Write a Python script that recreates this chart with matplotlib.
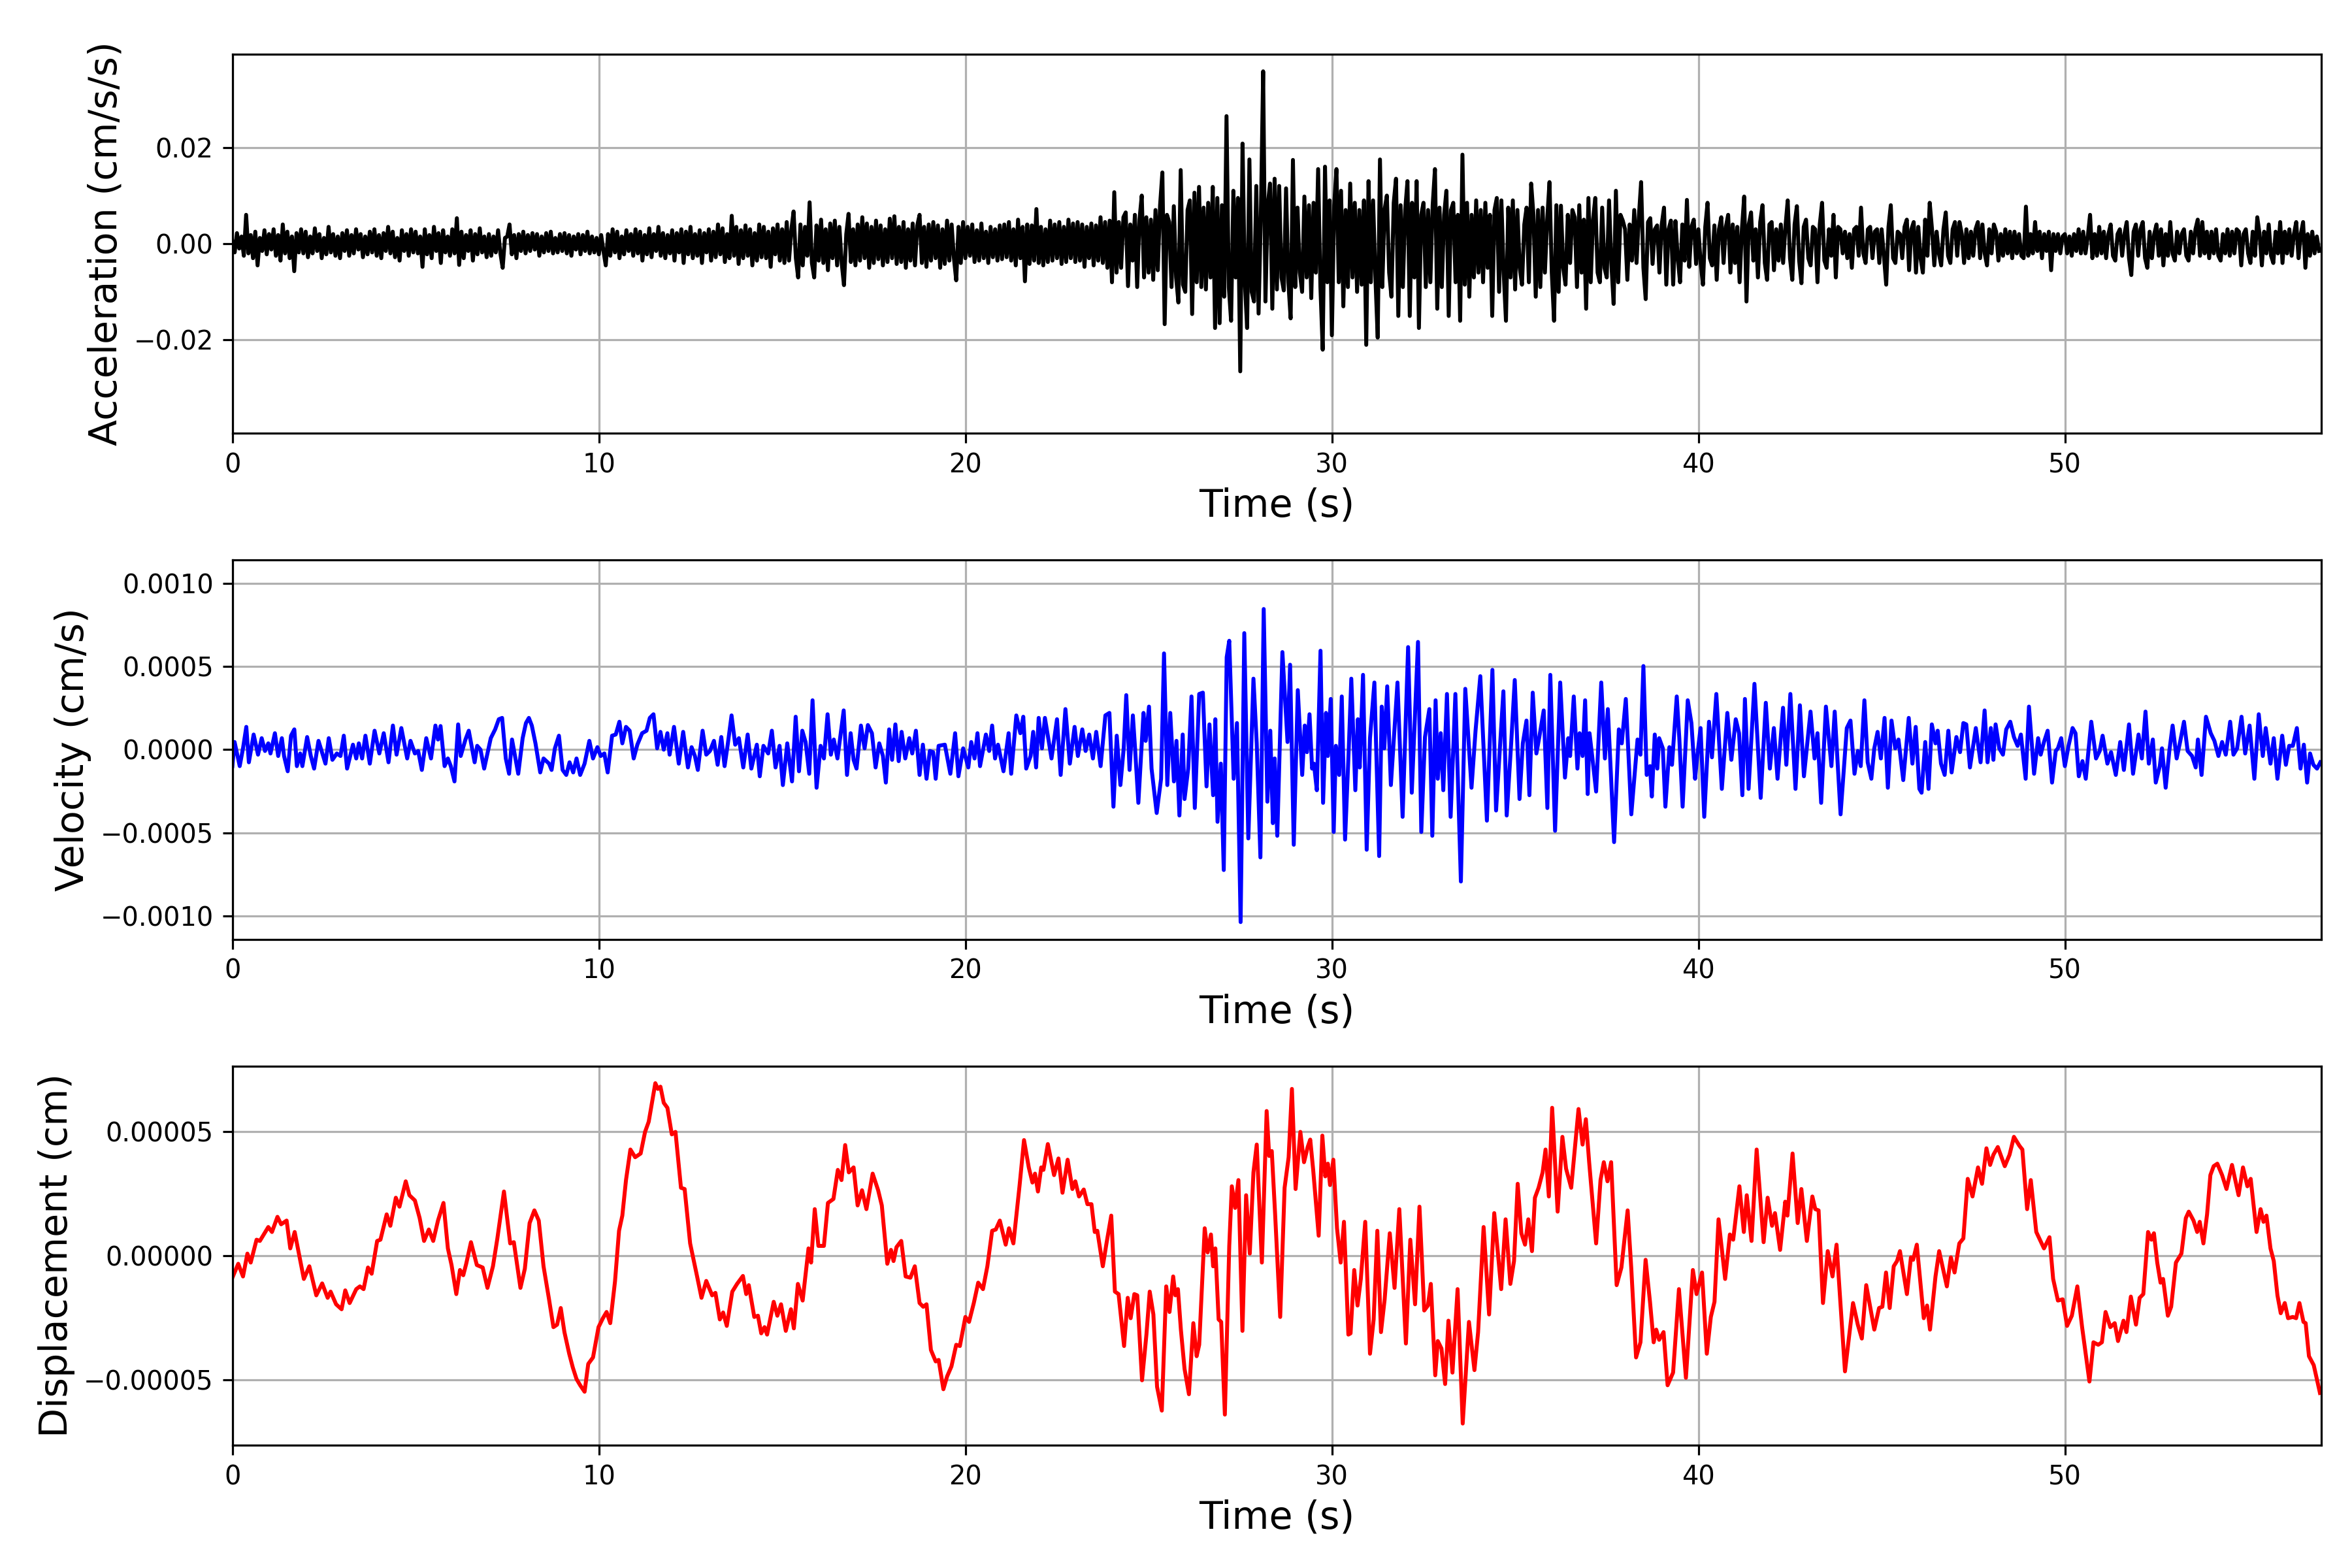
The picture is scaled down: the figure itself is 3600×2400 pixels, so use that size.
import numpy as np
import matplotlib
matplotlib.use("Agg")
import matplotlib.pyplot as plt
from matplotlib.ticker import MultipleLocator

# acceleration, 16 samples per second, units of 1e-4 cm/s/s (one row = one second)
acc_00_10 = [
    5, -18, 22, -10, 15, -25, 60, -20, 18, -30, 25, -45, 12, -15, 28, -22,
    20, -12, 30, -25, 18, -35, 40, -20, 25, -30, 15, -57, 22, -18, 30, -20,
    25, -28, 15, -20, 32, -15, 20, -30, 12, -22, 35, -18, 20, -25, 15, -30,
    22, -15, 28, -25, 18, -20, 30, -12, 20, -28, 15, -22, 25, -18, 30, -25,
    18, -30, 22, -15, 35, -20, 25, -28, 12, -35, 28, -15, 20, -25, 30, -18,
    25, -20, 15, -48, 30, -22, 18, -30, 35, -15, 22, -40, 28, -18, 15, -25,
    30, -20, 53, -44, 25, -30, 18, -15, 28, -35, 20, -22, 32, -18, 15, -28,
    20, -25, 15, -18, 28, -20, -50, 12, 15, 40, -22, 18, -30, 20, -15, 25,
    -20, 18, -15, 22, -12, 20, -25, 15, -18, 22, -15, 25, -20, 12, -18, 20,
    -15, 22, -20, 18, -25, 15, -12, 20, -22, 18, -15, 25, -20, 15, -18, 12,
]
acc_10_20 = [
    -22, 18, -15, -45, 20, -25, 30, -18, 25, -30, 15, -22, 28, -15, 20, -25,
    30, -20, 25, -35, 18, -22, 32, -28, 20, -15, 35, -25, 22, -30, 18, -20,
    28, -35, 22, -18, 30, -40, 25, -22, 35, -30, 20, -25, 28, -40, 22, -18,
    30, -35, 25, -28, 40, -22, 32, -38, 20, -30, 58, -25, 35, -42, 28, -30,
    38, -25, 30, -45, 22, -35, 40, -28, 35, -30, 25, -48, 32, -22, 40, -35,
    30, -40, 45, -35, 28, 67, -30, -70, 40, -45, 35, -25, 86, -40, -70, 38,
    -35, 50, -40, 30, -55, 42, -30, 48, -45, 35, -40, -86, 20, 62, -38, 30,
    -45, 40, -35, 55, -30, 42, -50, 35, -40, 48, -32, 38, -45, 30, -38, 52,
    -30, 57, -42, 35, -38, 45, -50, 30, -35, 42, -45, 38, 60, -40, 35, -48,
    40, -35, 45, -30, 38, -50, 30, -42, 48, -35, 40, -30, -76, 35, -40, 45,
]
acc_20_30 = [
    -30, 35, -25, 40, -38, 28, -35, 42, -30, 25, -40, 35, -28, 30, -35, 38,
    -32, 40, -28, 45, -35, 30, -45, 50, -30, 35, -78, 40, -42, 38, -35, 72,
    -40, 35, -45, 30, -38, 48, -35, 40, -30, 45, -42, 35, -38, 50, -30, 42,
    -38, 45, -35, 40, -48, 35, -30, 42, -45, 38, -35, 55, -40, 45, -50, 48,
    -80, 107, -60, 45, -50, 55, 65, -88, 40, -35, 60, -90, 50, 100, -70, 55,
    -60, 50, -75, 70, -55, 80, 148, -167, 60, 45, -90, 78, -70, -122, 153, -85,
    -100, 70, 90, -146, 106, -80, 118, -90, 75, -95, 85, -70, 118, -175, 95, -165,
    80, -110, 265, -90, -160, 110, -70, 95, -265, 208, -80, -175, 175, -100, -120, 120,
    -145, 60, 358, -120, 80, 125, -135, 135, -95, 120, -70, -97, 115, -80, -155, 174,
    -90, 75, -60, -100, 98, -70, 80, -113, 85, -60, 155, -90, -220, 160, -80, 90,
]
acc_30_40 = [
    -190, 80, 155, -80, 110, -130, 70, -90, 125, -70, 85, -100, 70, -85, 90, -210,
    130, -80, 90, -70, -195, 175, -90, 70, 100, -60, -110, 85, 135, -150, 80, -90,
    70, 130, -150, 85, -70, 130, -175, 60, 85, -90, 70, -80, 80, 155, -135, 75,
    -90, 60, 110, -150, 70, 85, -80, 60, -160, 185, -85, 85, -110, 60, -70, 90,
    -60, 70, -80, 85, -50, 60, -150, 70, 95, -100, 90, -60, -160, 75, -70, 90,
    -95, 70, -50, -85, 40, 75, -80, 125, 60, -110, 70, -90, 75, -60, 50, 128,
    -60, -160, 80, -100, 79, -50, -85, 60, -40, 70, 55, -90, 80, -60, 50, -135,
    95, -80, 50, 95, -60, -80, 75, -50, -70, 90, -40, -125, 110, -80, 60, 48,
    30, -75, 40, -35, 70, -40, 55, 128, -50, -115, 45, 53, -42, 30, 38, -60,
    40, 75, -85, 30, 48, -85, 47, -30, -80, 40, -35, 91, -48, 35, 50, -42,
]
acc_40_50 = [
    30, -40, -85, 35, 85, -30, -45, 38, -75, 30, 55, -40, 35, 60, -60, 40,
    -40, 35, -80, 30, 98, -120, 40, 65, -35, 30, -70, 45, 80, -40, -75, 40,
    45, -55, 30, -35, 40, -40, 35, 90, -30, -75, 40, 78, -35, -82, 35, 50,
    -30, -45, 35, 30, -80, 40, 85, -35, -50, 30, -25, 60, -70, 35, 30, -20,
    25, -30, 20, -50, 30, 35, -25, 75, -20, -40, 30, 35, -30, 25, 30, -40,
    30, -25, -85, 35, 80, -30, -40, 25, 20, -30, 35, 50, -55, 30, 45, -60,
    35, -30, -60, 50, -25, 85, 30, -45, 25, -20, -45, 30, 65, -25, -40, 30,
    45, -25, 45, 20, -40, 30, -30, 25, -25, 30, 45, -30, 40, -20, -45, 30,
    -20, 40, 25, -35, 20, -25, 30, -20, 25, -30, 25, -20, 20, -25, -30, 77,
    -25, 20, -20, 45, -15, 25, -30, 20, -15, 25, -55, 20, -15, 20, -20, 15,
]
acc_50_57 = [
    20, -20, 15, -25, 20, -15, 30, -20, 25, -20, 15, 60, -30, 20, -25, 35,
    -20, 25, -30, 20, 40, -25, -35, 20, 30, -25, 20, 45, -30, -65, 25, 40,
    -25, 30, 45, -30, -50, 25, -30, 20, 40, -25, 30, -45, 20, -25, 45, -20,
    -35, 25, -20, 20, 30, -25, -35, 25, -20, 30, 50, -25, 45, -20, 25, -30,
    25, -20, 30, -25, -35, 20, -20, 30, -25, 25, -20, 30, 25, -45, 20, 30,
    -20, -40, 25, -25, 55, 20, -45, 25, -20, 40, -25, -40, 25, -20, 45, -40,
    25, -20, 30, -25, 20, 45, -30, 20, 45, -50, 20, -25, 25, -20, 15, -15,
]

# velocity turning points (time s, value in 1e-4 cm/s)
vel_a = [
    (0.00, -0.99), (0.06, 0.46), (0.20, -0.99), (0.29, 0.08), (0.38, 1.37), (0.45, -0.76),
    (0.58, 0.91), (0.70, -0.30), (0.80, 0.69), (0.89, -0.08), (0.98, 0.38), (1.04, -0.23),
    (1.16, 0.99), (1.25, -0.38), (1.35, 0.69), (1.41, -0.38), (1.51, -1.30), (1.60, 0.84),
    (1.69, 1.22), (1.76, -0.99), (1.85, -0.23), (1.91, -0.99), (2.04, 0.76), (2.14, -0.38),
    (2.23, -1.14), (2.35, 0.53), (2.54, -0.84), (2.63, 0.69), (2.73, -0.61), (2.85, -0.23),
    (2.95, -0.38), (3.04, 0.84), (3.13, -1.14), (3.29, 0.30), (3.38, -0.53), (3.45, 0.38),
    (3.54, -0.53), (3.63, 0.84), (3.75, -0.84), (3.88, 1.14), (4.01, -0.23), (4.13, 0.99),
    (4.26, -0.76), (4.38, 1.45), (4.48, -0.30), (4.61, 1.30), (4.77, -0.53), (4.86, 0.53),
    (4.98, -0.23), (5.07, -0.08), (5.17, -1.22), (5.29, 0.69), (5.42, -0.53), (5.54, 1.45),
    (5.61, 0.61), (5.68, 1.42), (5.79, -0.99), (5.88, -0.53), (5.96, -0.99), (6.06, -1.91),
    (6.16, 1.52), (6.23, -0.38), (6.36, 0.61), (6.45, 1.14), (6.61, -0.76), (6.68, 0.23),
    (6.77, 0.00), (6.87, -1.14), (7.05, 0.69), (7.17, 1.22), (7.27, 1.83), (7.36, 1.91),
    (7.46, -0.53), (7.55, -1.45), (7.63, 0.61), (7.80, -1.45), (7.92, 0.69), (8.01, 1.60),
    (8.09, 1.91), (8.17, 1.45), (8.27, 0.38), (8.40, -1.37), (8.49, -0.53), (8.64, -0.84),
    (8.71, -1.22), (8.80, 0.08), (8.91, 0.84), (9.01, -1.22), (9.11, -1.52), (9.20, -0.76),
    (9.30, -1.37), (9.39, -0.53), (9.49, -1.52), (9.61, -0.84), (9.74, 0.53), (9.84, -0.53),
    (9.96, 0.15), (10.05, -0.38), (10.15, -0.23), (10.24, -1.37), (10.36, 0.84), (10.46, 0.91),
    (10.56, 1.68), (10.64, 0.38), (10.74, 1.37), (10.84, 1.14), (10.95, -0.53), (11.05, 0.30),
    (11.18, 0.99), (11.30, 1.14), (11.39, 1.91), (11.49, 2.13), (11.59, 0.08), (11.68, 1.07),
    (11.77, 0.00), (11.87, 0.99), (11.93, -0.30), (12.05, 1.37), (12.18, -0.84), (12.30, 1.07),
    (12.43, -1.07), (12.53, 0.15), (12.62, -0.38), (12.70, -1.22), (12.83, 1.14), (12.93, -0.30),
    (13.03, -0.08), (13.14, 0.53), (13.24, -0.91), (13.34, 0.76), (13.43, -0.99), (13.52, 0.38),
    (13.62, 2.06), (13.72, 0.30), (13.82, 0.69), (13.94, -1.07), (14.06, 0.91), (14.16, -1.14),
    (14.31, 0.30), (14.39, -1.60), (14.49, 0.23), (14.62, -0.23), (14.72, 1.14), (14.82, -1.07),
    (14.93, 0.23), (15.02, -2.13), (15.14, 0.38), (15.27, -1.91), (15.37, 1.98), (15.46, -1.30),
    (15.55, 1.14), (15.64, 0.46), (15.74, -1.45), (15.83, 2.97), (15.94, -2.29), (16.05, 0.23),
    (16.14, -0.53), (16.24, 2.13), (16.33, -0.30), (16.41, 0.61), (16.51, -0.53), (16.68, 2.36),
    (16.77, -1.52), (16.87, 0.99), (16.95, -0.61), (17.03, -1.14), (17.15, 1.45), (17.25, 0.08),
    (17.34, 1.48), (17.45, 0.99), (17.55, -1.07), (17.65, 0.38), (17.75, -0.38), (17.83, -1.98),
    (17.92, 1.22), (18.00, -0.61), (18.09, 1.52), (18.18, -0.69), (18.26, 1.07), (18.36, -0.53),
    (18.47, 0.69), (18.55, -0.23), (18.65, 1.14), (18.75, -1.52), (18.84, 0.30), (18.94, -1.75),
    (19.03, -0.08), (19.12, -0.15), (19.19, -1.75), (19.27, 0.23),
]
vel_b = [
    (19.44, 0.30), (19.59, -1.45), (19.72, 0.99), (19.81, -1.60), (19.94, 0.08), (20.08, -1.07),
    (20.16, 0.46), (20.25, -0.53), (20.33, 0.99), (20.40, -0.99), (20.56, 0.91), (20.65, -0.08),
    (20.73, 1.45), (20.81, -0.53), (20.89, 0.30), (21.04, -1.30), (21.18, 0.99), (21.25, -1.45),
    (21.39, 2.06), (21.50, 0.99), (21.58, 1.98), (21.66, -1.14), (21.78, -0.38), (21.85, 1.07),
    (21.93, -1.07), (22.00, 1.91), (22.09, 0.08), (22.17, 1.91), (22.25, 0.84), (22.35, -0.53),
    (22.50, 1.83), (22.60, -1.52), (22.73, 2.44), (22.85, -0.84), (22.98, 1.37), (23.07, -0.38),
    (23.19, 1.22), (23.28, -0.08), (23.38, 0.91), (23.48, -0.53), (23.57, 1.07), (23.69, -0.99),
    (23.82, 2.06), (23.93, 2.21), (24.04, -3.43), (24.13, 0.84), (24.23, -2.13), (24.32, 0.08),
    (24.39, 3.28), (24.48, -1.22), (24.57, 2.06), (24.63, 0.08), (24.72, -3.20), (24.86, 2.21),
    (24.92, 0.53), (25.01, 2.59), (25.08, -1.14), (25.22, -3.81), (25.34, -1.75), (25.42, 5.79),
    (25.51, -2.13), (25.59, 2.21), (25.69, -1.91), (25.76, 0.53), (25.84, -3.96), (25.93, 0.91),
    (25.98, -2.97), (26.08, -1.14), (26.17, 3.20), (26.26, -3.51), (26.38, 3.35), (26.48, 3.43),
    (26.58, -2.21), (26.66, 1.52), (26.76, -2.74), (26.82, 1.83), (26.88, -4.34), (26.97, -0.84),
    (27.05, -7.24), (27.13, 5.56), (27.20, 6.55), (27.32, -1.75), (27.41, 1.60), (27.51, -10.37),
    (27.61, 7.01), (27.72, -5.34), (27.86, 4.27), (27.95, 0.38), (28.05, -6.48), (28.14, 8.46),
    (28.24, -3.13), (28.32, 1.14), (28.39, -4.42), (28.44, -0.53), (28.51, -5.18), (28.65, 5.87),
    (28.79, 0.46), (28.86, 5.11), (28.96, -5.72), (29.07, 3.58), (29.19, -1.52), (29.26, 1.45),
    (29.32, -0.15), (29.39, 2.13), (29.46, -1.14), (29.51, -0.84), (29.59, -2.44), (29.69, 5.95),
    (29.76, -3.20), (29.84, 2.21), (29.89, -0.38), (29.97, 3.05), (30.05, -4.95), (30.11, 0.23),
    (30.20, -1.52), (30.27, 3.20), (30.36, -5.41), (30.46, 0.00), (30.53, 4.27), (30.64, -2.44),
    (30.71, 1.83), (30.76, -1.07), (30.85, 4.50), (30.95, -6.02), (31.04, 0.69), (31.16, 4.04),
    (31.29, -6.40), (31.36, 2.59), (31.43, 0.08), (31.51, 3.81), (31.61, -2.13), (31.79, 4.04),
    (31.93, -4.04), (32.08, 6.17), (32.18, -2.59), (32.35, 6.48), (32.44, -4.95), (32.54, 0.76),
    (32.66, 2.44), (32.74, -5.18), (32.83, 2.97), (32.89, -1.75), (32.97, 0.99), (33.04, -2.44),
    (33.14, 3.35), (33.24, -4.04), (33.37, 3.35), (33.52, -7.93), (33.64, 3.66), (33.81, -2.29),
    (33.92, 1.14), (34.05, 4.42), (34.23, -4.27), (34.38, 4.80), (34.48, -3.66), (34.58, -0.08),
    (34.68, 3.51), (34.77, -3.96), (34.89, 0.30), (34.99, 4.19), (35.12, -2.97), (35.21, 0.38),
    (35.31, 1.75), (35.39, -2.74), (35.48, 3.43), (35.58, -0.23), (35.66, 0.76), (35.78, 2.36),
    (35.88, -3.51), (35.96, 4.50), (36.09, -4.88), (36.23, 4.04), (36.36, -1.68), (36.45, 0.69),
    (36.50, -0.38), (36.60, 3.20), (36.70, -1.14), (36.76, 0.99), (36.84, -0.38), (36.91, 2.97),
    (36.98, -2.67), (37.03, 0.99), (37.11, -0.53), (37.21, -2.52), (37.35, 4.04), (37.45, -0.53),
    (37.53, 2.44), (37.70, -5.56), (37.83, 1.22), (37.91, 0.38), (38.02, 3.05), (38.17, -3.89),
]
vel_c = [
    (38.34, 0.61), (38.42, -0.30), (38.50, 5.03), (38.59, -1.52), (38.68, -0.99), (38.73, -2.82),
    (38.81, 0.91), (38.88, -1.14), (38.93, 0.69), (39.03, 0.08), (39.10, -3.43), (39.21, 0.15),
    (39.28, -0.91), (39.41, 3.20), (39.48, 0.69), (39.57, -3.43), (39.71, 2.97), (39.81, 1.60),
    (39.91, -1.75), (39.97, -0.38), (40.06, 1.30), (40.16, -4.04), (40.29, 1.68), (40.37, -0.46),
    (40.49, 3.35), (40.64, -2.36), (40.79, 2.21), (40.90, -0.61), (41.02, 1.83), (41.11, 0.99),
    (41.20, -2.74), (41.27, 3.05), (41.37, -2.36), (41.53, 3.96), (41.70, -2.90), (41.84, 2.82),
    (41.95, -1.14), (42.06, 1.30), (42.16, -1.75), (42.31, 2.52), (42.40, -0.91), (42.51, 3.35),
    (42.65, -2.36), (42.77, 2.67), (42.88, -1.60), (43.06, 2.29), (43.17, -0.53), (43.25, 0.99),
    (43.35, -3.20), (43.48, 2.59), (43.63, -0.99), (43.72, 2.29), (43.88, -3.89), (44.05, 1.30),
    (44.15, 1.75), (44.26, -1.45), (44.35, -0.08), (44.43, -0.99), (44.53, 2.97), (44.62, -0.76),
    (44.72, -1.75), (44.80, 0.08), (44.89, 1.07), (44.98, -0.53), (45.08, 1.91), (45.17, -2.29),
    (45.27, 1.75), (45.37, 0.08), (45.46, 0.61), (45.59, -1.83), (45.74, 1.91), (45.84, -0.84),
    (45.93, 1.37), (46.03, -2.36), (46.09, -2.59), (46.19, 0.46), (46.28, -2.36), (46.37, 1.52),
    (46.47, 0.38), (46.53, 1.14), (46.62, -0.84), (46.72, -1.52), (46.82, 1.14), (46.91, -1.37),
    (47.04, 0.76), (47.14, -0.15), (47.23, 1.60), (47.31, 1.52), (47.41, -1.07), (47.57, 1.30),
    (47.70, -0.76), (47.81, 2.36), (47.89, -0.76), (47.98, 1.30), (48.05, -0.61), (48.11, 1.52),
    (48.21, 0.08), (48.31, -0.30), (48.40, 1.22), (48.51, 1.68), (48.61, 0.76), (48.71, 0.23),
    (48.80, 0.91), (48.93, -1.75), (49.02, 2.59), (49.16, -1.45), (49.27, 0.69), (49.34, -0.30),
    (49.43, 0.46), (49.53, 1.14), (49.65, -1.98), (49.75, -0.08), (49.81, 0.08), (49.90, 0.69),
    (50.00, -0.99), (50.10, 0.23), (50.21, 1.30), (50.29, 0.99), (50.38, -1.60), (50.48, -0.69),
    (50.57, -1.75), (50.72, 1.68), (50.85, -0.53), (50.95, -0.08), (51.03, 0.84), (51.16, -0.84),
    (51.26, -0.15), (51.39, -1.52), (51.51, 0.46), (51.61, -1.22), (51.75, 1.52), (51.86, -1.45),
    (52.01, 0.91), (52.10, -0.53), (52.20, 2.29), (52.29, -0.84), (52.40, 0.61), (52.48, -1.98),
    (52.59, -0.99), (52.65, 0.08), (52.75, -2.29), (52.85, -0.08), (52.94, 1.45), (53.05, -0.53),
    (53.15, 0.53), (53.25, 1.68), (53.35, -0.08), (53.47, -0.38), (53.57, -1.07), (53.63, 0.61),
    (53.73, -1.52), (53.85, 1.98), (53.98, 0.99), (54.08, 0.53), (54.19, -0.38), (54.29, 0.46),
    (54.39, -0.30), (54.51, 1.68), (54.60, -0.30), (54.70, 0.08), (54.82, 1.98), (54.92, -0.23),
    (55.04, 1.45), (55.17, -1.75), (55.29, 2.13), (55.40, -0.38), (55.48, 1.30), (55.61, -0.84),
    (55.70, 0.69), (55.80, -1.75), (55.93, 0.84), (56.03, -0.91), (56.12, 0.23), (56.22, 0.23),
    (56.33, 1.30), (56.43, -1.14), (56.52, 0.30), (56.61, -1.98), (56.69, -0.23), (56.78, -0.91),
    (56.88, -1.14), (56.97, -0.76),
]

# displacement turning points (time s, value in 1e-5 cm)
disp_a = [
    (0.00, -0.89), (0.16, -0.33), (0.29, -0.84), (0.41, 0.08), (0.50, -0.28), (0.66, 0.64),
    (0.75, 0.59), (0.98, 1.15), (1.08, 0.95), (1.23, 1.56), (1.33, 1.26), (1.48, 1.41),
    (1.58, 0.29), (1.70, 0.95), (1.95, -0.94), (2.10, -0.43), (2.29, -1.60), (2.45, -1.12),
    (2.60, -1.70), (2.68, -1.45), (2.83, -1.96), (2.98, -2.16), (3.08, -1.40), (3.20, -1.91),
    (3.38, -1.35), (3.48, -1.24), (3.58, -1.35), (3.70, -0.48), (3.80, -0.73), (3.95, 0.59),
    (4.04, 0.64), (4.21, 1.66), (4.31, 1.20), (4.46, 2.33), (4.56, 1.97), (4.73, 2.99),
    (4.83, 2.43), (4.98, 2.22), (5.11, 1.51), (5.23, 0.59), (5.36, 1.05), (5.48, 0.59),
    (5.61, 1.41), (5.76, 2.12), (5.88, 0.29), (5.98, -0.38), (6.11, -1.55), (6.21, -0.58),
    (6.30, -0.79), (6.38, -0.33), (6.51, 0.54), (6.67, -0.38), (6.83, -0.48), (6.96, -1.30),
    (7.11, -0.43), (7.23, 0.69), (7.41, 2.58), (7.58, 0.49), (7.68, 0.54), (7.86, -1.30),
    (7.98, -0.53), (8.11, 1.31), (8.24, 1.82), (8.36, 1.41), (8.49, -0.43), (8.64, -1.76),
    (8.76, -2.88), (8.86, -2.78), (8.96, -2.11), (9.06, -3.08), (9.19, -3.95), (9.29, -4.51),
    (9.39, -4.97), (9.49, -5.22), (9.61, -5.48), (9.71, -4.36), (9.84, -4.10), (9.99, -2.88),
    (10.11, -2.52), (10.21, -2.27), (10.31, -2.72), (10.44, -1.04), (10.55, 1.00), (10.64, 1.61),
    (10.74, 3.04), (10.86, 4.27), (10.99, 3.96), (11.14, 4.11), (11.26, 4.98), (11.36, 5.39),
    (11.54, 6.94), (11.61, 6.71), (11.68, 6.80), (11.77, 6.15), (11.87, 5.95), (11.99, 4.88),
    (12.09, 4.98), (12.24, 2.73), (12.34, 2.68), (12.49, 0.49), (12.68, -0.84), (12.80, -1.70),
    (12.93, -1.02), (13.09, -1.60), (13.18, -1.50), (13.30, -2.57), (13.39, -2.29), (13.49, -2.83),
    (13.64, -1.45), (13.77, -1.14), (13.93, -0.82), (14.02, -1.55), (14.09, -1.19), (14.24, -2.47),
    (14.34, -2.42), (14.43, -3.13), (14.52, -2.88), (14.59, -3.18), (14.77, -1.86), (14.87, -2.42),
    (14.97, -1.96), (15.10, -3.03), (15.24, -2.16), (15.32, -2.93), (15.43, -1.14), (15.56, -1.81),
    (15.72, 0.29), (15.79, -0.28), (15.89, 1.87), (15.99, 0.39), (16.14, 0.39), (16.25, 2.12),
    (16.40, 2.28), (16.52, 3.45), (16.62, 3.04), (16.72, 4.45), (16.82, 3.35), (16.95, 3.55),
    (17.06, 2.02), (17.18, 2.63), (17.30, 1.87), (17.47, 3.30), (17.62, 2.63), (17.72, 2.02),
    (17.87, -0.33), (17.97, 0.23), (18.04, -0.22), (18.12, 0.34), (18.25, 0.59), (18.37, -0.84),
    (18.50, -0.89), (18.62, -0.43), (18.75, -1.91), (18.85, -2.06), (18.94, -1.96), (19.06, -3.80),
    (19.19, -4.26),
]
disp_b = [
    (19.27, -4.20), (19.40, -5.38), (19.50, -4.87), (19.62, -4.46), (19.75, -3.59), (19.85, -3.64),
    (20.00, -2.47), (20.10, -2.67), (20.23, -1.91), (20.35, -1.09), (20.48, -1.35), (20.60, -0.43),
    (20.73, 1.00), (20.83, 1.05), (20.94, 1.41), (21.10, 0.44), (21.19, 1.10), (21.31, 0.49),
    (21.48, 2.84), (21.60, 4.65), (21.73, 3.55), (21.83, 2.94), (21.90, 3.30), (21.98, 2.58),
    (22.07, 3.55), (22.13, 3.45), (22.25, 4.49), (22.42, 3.24), (22.54, 3.91), (22.65, 2.53),
    (22.79, 3.86), (22.92, 2.68), (23.00, 2.99), (23.10, 2.38), (23.23, 2.66), (23.33, 2.07),
    (23.44, 2.07), (23.53, 0.95), (23.60, 1.00), (23.75, -0.43), (23.85, 0.49), (23.98, 1.61),
    (24.08, -1.45), (24.18, -1.55), (24.33, -3.64), (24.43, -1.70), (24.51, -2.52), (24.61, -1.55),
    (24.69, -1.60), (24.82, -5.02), (24.94, -3.18), (25.03, -1.45), (25.13, -2.37), (25.23, -5.28),
    (25.36, -6.24), (25.48, -1.24), (25.57, -2.27), (25.67, -0.84), (25.73, -1.60), (25.80, -1.35),
    (25.88, -2.98), (25.98, -4.56), (26.10, -5.58), (26.22, -2.72), (26.31, -4.05), (26.38, -3.59),
    (26.53, 1.10), (26.61, 0.13), (26.70, 0.85), (26.76, -0.43), (26.82, 0.29), (26.91, -2.57),
    (26.98, -2.67), (27.08, -6.40), (27.20, 0.39), (27.27, 2.79), (27.36, 1.92), (27.45, 3.04),
    (27.56, -3.03), (27.66, 2.43), (27.76, 0.08), (27.86, 3.35), (27.95, 4.47), (28.09, -0.28),
    (28.22, 5.82), (28.29, 4.01), (28.36, 4.21), (28.45, 1.71), (28.59, -2.47), (28.71, 2.73),
    (28.82, 3.96), (28.91, 6.71), (29.01, 2.68), (29.14, 4.98), (29.24, 3.76), (29.34, 4.37),
    (29.41, 4.67), (29.49, 3.45), (29.64, 0.80), (29.74, 4.83), (29.82, 3.19), (29.89, 3.70),
    (29.95, 2.84), (30.04, 3.86), (30.14, 1.10), (30.24, -0.28), (30.33, 1.36), (30.45, -3.18),
    (30.51, -3.13), (30.61, -0.58), (30.70, -2.01), (30.79, -0.94), (30.91, 1.36), (31.04, -3.95),
    (31.14, -2.57), (31.24, 1.00), (31.34, -3.08), (31.44, -1.76), (31.58, 0.90), (31.71, -1.30),
    (31.84, 1.87), (32.02, -3.54), (32.14, 0.64), (32.27, -1.96), (32.39, 1.97), (32.52, -2.21),
    (32.62, -2.01), (32.70, -1.14), (32.82, -4.82), (32.89, -3.44), (32.99, -3.74), (33.09, -5.17),
    (33.18, -2.62), (33.29, -4.71), (33.43, -1.35), (33.57, -6.76), (33.74, -2.67), (33.89, -4.61),
    (33.99, -3.08), (34.14, 1.15), (34.29, -2.37), (34.43, 1.71), (34.62, -1.35), (34.74, 1.46),
    (34.87, -1.14), (34.97, -0.22), (35.07, 2.89), (35.17, 0.90), (35.27, 0.44), (35.36, 1.46),
    (35.46, 0.18), (35.54, 2.33), (35.64, 2.73), (35.75, 3.35), (35.83, 4.27), (35.92, 2.38),
    (36.01, 5.95), (36.16, 1.77), (36.29, 4.78), (36.39, 3.50), (36.53, 2.73), (36.73, 5.90),
    (36.84, 4.47), (36.93, 5.49), (37.02, 3.76), (37.21, 0.49), (37.33, 3.04), (37.42, 3.76),
    (37.52, 2.99), (37.62, 3.76), (37.77, -1.19), (37.90, -0.48),
]
disp_c = [
    (38.07, 1.82), (38.17, -0.53), (38.30, -4.10), (38.42, -3.49), (38.56, -0.17), (38.68, -1.86),
    (38.78, -3.49), (38.85, -2.98), (38.93, -3.39), (39.05, -3.08), (39.16, -5.22), (39.31, -4.71),
    (39.47, -1.35), (39.66, -4.92), (39.85, -0.58), (39.95, -1.55), (40.10, -0.68), (40.23, -3.95),
    (40.34, -2.47), (40.44, -1.86), (40.55, 1.46), (40.73, -0.94), (40.86, 0.85), (40.95, 0.64),
    (41.12, 2.79), (41.24, 0.95), (41.32, 2.43), (41.45, 0.59), (41.59, 4.27), (41.78, 0.54),
    (41.89, 2.33), (42.01, 1.20), (42.09, 1.71), (42.23, 0.23), (42.37, 2.17), (42.43, 1.61),
    (42.57, 4.11), (42.71, 1.31), (42.81, 2.68), (42.96, 0.59), (43.11, 2.38), (43.19, 1.87),
    (43.28, 1.82), (43.40, -1.91), (43.53, 0.18), (43.66, -0.84), (43.77, 0.44), (44.00, -4.66),
    (44.22, -1.91), (44.35, -2.78), (44.46, -3.34), (44.58, -1.19), (44.80, -2.98), (44.93, -2.11),
    (45.02, -2.06), (45.12, -0.68), (45.22, -2.11), (45.33, -0.43), (45.42, -0.22), (45.50, 0.18),
    (45.69, -1.55), (45.80, -0.07), (45.86, -0.17), (45.96, 0.44), (46.15, -2.52), (46.24, -2.01),
    (46.32, -2.98), (46.47, -0.84), (46.57, 0.18), (46.78, -1.24), (46.89, -0.07), (46.99, -0.68),
    (47.12, 0.49), (47.23, 0.69), (47.35, 3.09), (47.48, 2.38), (47.63, 3.55), (47.74, 2.89),
    (47.86, 4.32), (47.96, 3.65), (48.05, 4.06), (48.17, 4.37), (48.36, 3.60), (48.49, 4.06),
    (48.61, 4.78), (48.76, 4.42), (48.84, 4.27), (48.97, 1.87), (49.07, 3.04), (49.22, 0.95),
    (49.43, 0.29), (49.58, 0.74), (49.68, -0.94), (49.81, -1.81), (49.94, -1.76), (50.06, -2.83),
    (50.19, -2.42), (50.34, -1.24), (50.47, -2.88), (50.67, -5.07), (50.78, -3.49), (50.91, -3.59),
    (51.01, -3.49), (51.11, -2.27), (51.24, -2.88), (51.36, -2.72), (51.45, -3.44), (51.60, -2.62),
    (51.68, -3.08), (51.80, -1.65), (51.94, -2.78), (52.04, -1.70), (52.14, -1.55), (52.27, 0.95),
    (52.36, 0.64), (52.43, 0.90), (52.52, -0.28), (52.61, -1.09), (52.68, -0.94), (52.81, -2.42),
    (52.90, -2.06), (53.03, -0.28), (53.18, 0.08), (53.30, 1.51), (53.38, 1.77), (53.51, 1.41),
    (53.61, 0.95), (53.68, 1.36), (53.78, 0.49), (53.88, 1.66), (53.97, 3.24), (54.06, 3.60),
    (54.16, 3.70), (54.29, 3.24), (54.41, 2.68), (54.56, 3.65), (54.74, 2.43), (54.86, 3.55),
    (54.98, 2.79), (55.07, 3.09), (55.23, 0.95), (55.34, 1.87), (55.42, 1.36), (55.50, 1.61),
    (55.61, 0.29), (55.70, -0.22), (55.80, -1.60), (55.89, -2.32), (56.00, -1.91), (56.09, -2.52),
    (56.22, -2.47), (56.31, -2.52), (56.40, -1.91), (56.51, -2.67), (56.57, -2.72), (56.66, -4.05),
    (56.79, -4.41), (56.96, -5.53),
]

t_end = 57.0

acc = np.array(acc_00_10 + acc_10_20 + acc_20_30 + acc_30_40 + acc_40_50 + acc_50_57) * 1e-4
t_acc = np.arange(len(acc)) / 16.0

vel = np.array(vel_a + vel_b + vel_c)
disp = np.array(disp_a + disp_b + disp_c)

panels = [
    (t_acc, acc, "black", "Acceleration (cm/s/s)", 0.02),
    (vel[:, 0], vel[:, 1] * 1e-4, "blue", "Velocity (cm/s)", 0.0005),
    (disp[:, 0], disp[:, 1] * 1e-5, "red", "Displacement (cm)", 0.00005),
]

fig, axes = plt.subplots(3, 1, figsize=(15, 10), dpi=240)
fig.subplots_adjust(left=0.0988, right=0.987, top=0.9655, bottom=0.0783, hspace=0.334)

for ax, (t, y, col, label, step) in zip(axes, panels):
    ax.plot(t, y, color=col, lw=1.8)
    lim = 1.1 * np.abs(y).max()
    ax.set_xlim(0, t_end)
    ax.set_ylim(-lim, lim)
    ax.yaxis.set_major_locator(MultipleLocator(step))
    ax.ticklabel_format(axis="y", style="plain", useOffset=False)
    ax.grid(True, color="#b0b0b0", lw=0.96)
    ax.set_xlabel("Time (s)", fontsize=17.6)
    ax.set_ylabel(label, fontsize=17.6)
    ax.tick_params(labelsize=12, length=4.5, width=0.96, pad=4.2)
    for sp in ax.spines.values():
        sp.set_linewidth(0.96)

fig.savefig("out.png", dpi=240)
